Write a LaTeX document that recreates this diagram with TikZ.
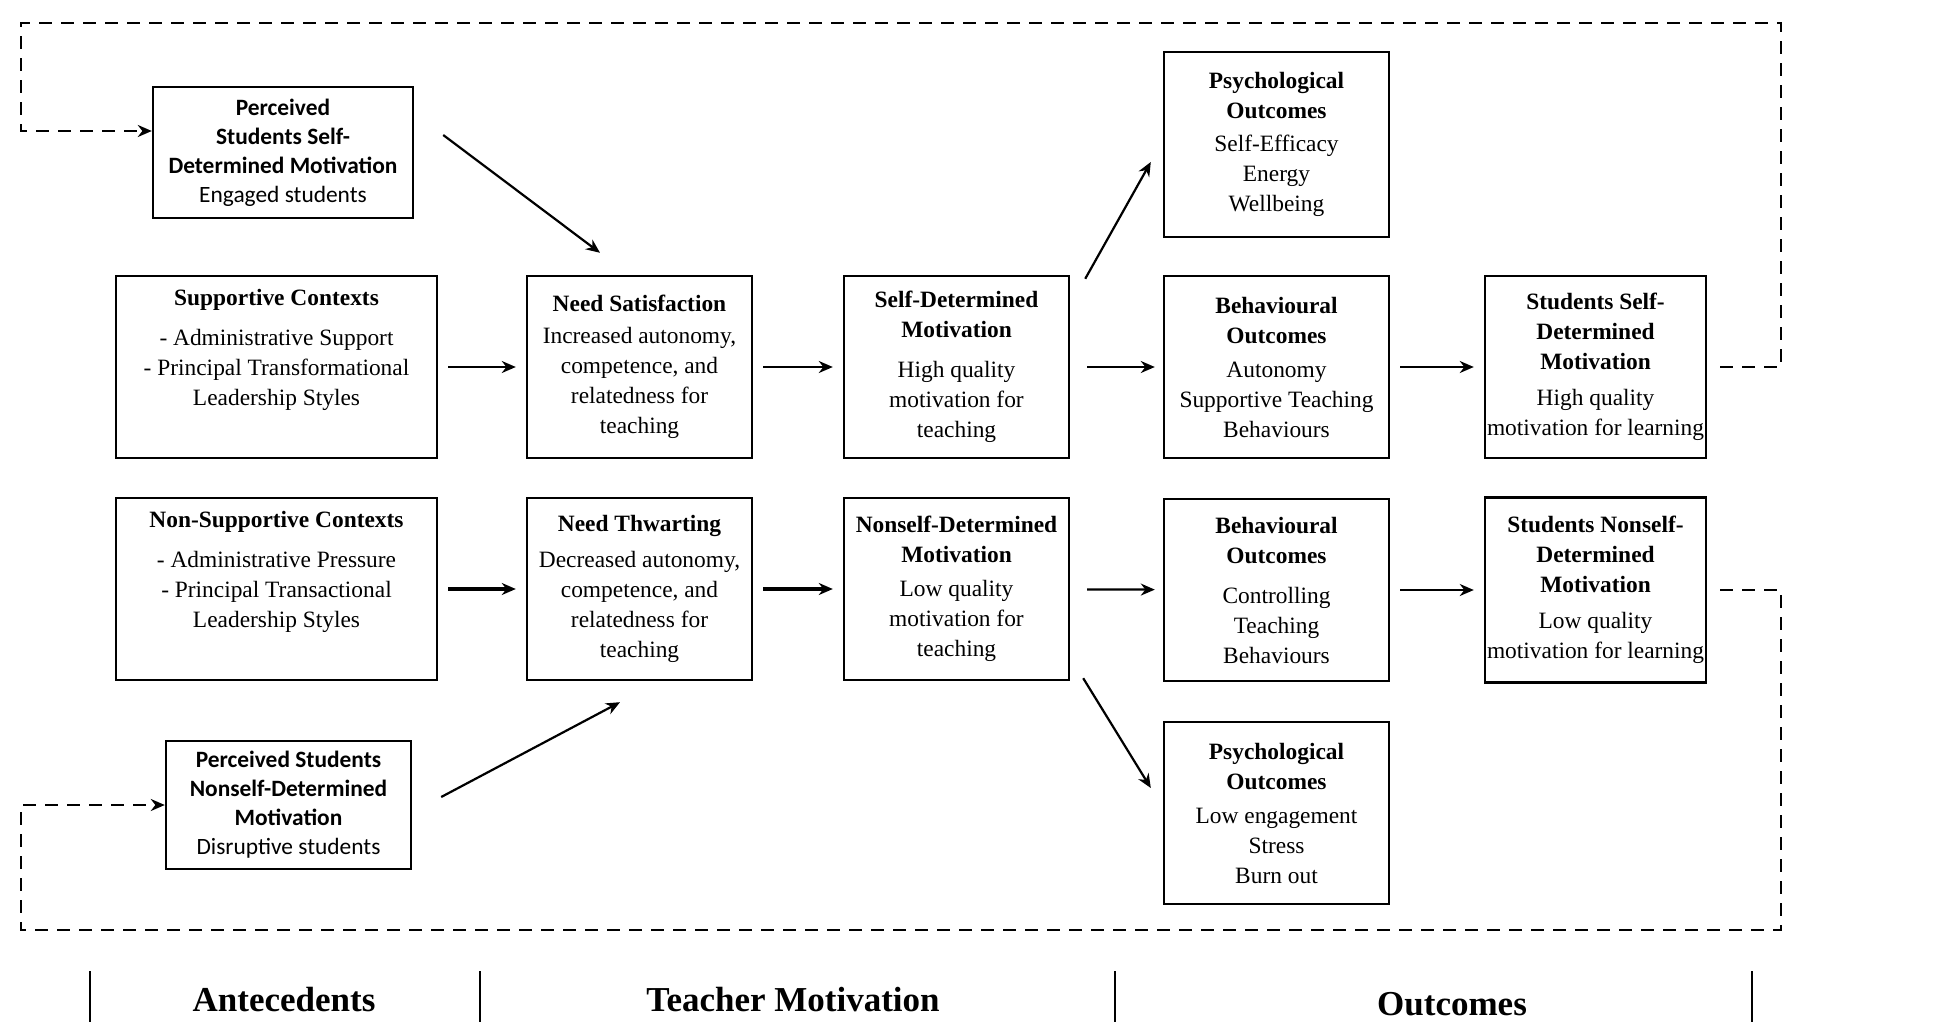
\documentclass[tikz,border=0pt]{standalone}
\usepackage{fontspec}
\setmainfont{Liberation Serif}
\newfontfamily\calibri{Carlito}
\usetikzlibrary{arrows.meta,calc}
\begin{document}
\begin{tikzpicture}[x=0.5pt, y=-0.5pt, >={Stealth[length=7pt,width=6pt]},
    every node/.style={font=\fontsize{11.7}{15}\selectfont},
    box/.style={draw, line width=1.2pt, inner sep=1pt, align=center, minimum width=112.5pt, minimum height=91pt},
    wide/.style={minimum width=160.5pt},
    perc/.style={draw, line width=1.2pt, inner sep=1pt, align=center, font=\calibri\fontsize{11.7}{14.5}\selectfont},
    arr/.style={->, line width=1.1pt},
    gap/.style={shorten <=5pt, shorten >=5pt},
    fb/.style={->, dash pattern=on 6.5pt off 4.5pt, line width=1.2pt},
    head/.style={font=\bfseries\fontsize{17.5}{20}\selectfont}]
    \useasboundingbox (0,0) rectangle (1953,1022);
    \node [perc, minimum width=130pt, minimum height=65.5pt] (pssd) at (283,152.5) {\textbf{Perceived}\\ \textbf{Students Self-}\\ \textbf{Determined Motivation}\\ Engaged students};
    \node [box, wide] (sc) at (276.5,367) {\textbf{Supportive Contexts}\\[5pt] - Administrative Support\\ - Principal Transformational\\ Leadership Styles\\ \strut};
    \node [box] (ns) at (639.5,367) {\textbf{Need Satisfaction}\\[1pt] Increased autonomy,\\ competence, and\\ relatedness for\\ teaching};
    \node [box] (sdm) at (956.5,367) {\textbf{Self-Determined}\\ \textbf{Motivation}\\[5pt] High quality\\ motivation for\\ teaching};
    \node [box, minimum height=92.5pt] (po1) at (1276.5,144.5) {\textbf{Psychological}\\ \textbf{Outcomes}\\[1.5pt] Self-Efficacy\\ Energy\\ Wellbeing};
    \node [box] (bo1) at (1276.5,367) {\textbf{Behavioural}\\ \textbf{Outcomes}\\[2pt] Autonomy\\ Supportive Teaching\\ Behaviours};
    \node [box, minimum width=110.5pt] (ssdm) at (1595.5,367) {\textbf{Students Self-}\\ \textbf{Determined}\\ \textbf{Motivation}\\[3pt] High quality\\ motivation for learning};
    \node [box, wide] (nsc) at (276.5,589) {\textbf{Non-Supportive Contexts}\\[5pt] - Administrative Pressure\\ - Principal Transactional\\ Leadership Styles\\ \strut};
    \node [box] (nt) at (639.5,589) {\textbf{Need Thwarting}\\[3pt] Decreased autonomy,\\ competence, and\\ relatedness for\\ teaching};
    \node [box] (nsdm) at (956.5,589) {\textbf{Nonself-Determined}\\ \textbf{Motivation}\\[2pt] Low quality\\ motivation for\\ teaching};
    \node [box] (bo2) at (1276.5,590) {\textbf{Behavioural}\\ \textbf{Outcomes}\\[5pt] Controlling\\ Teaching\\ Behaviours};
    \node [box, minimum width=110.5pt, minimum height=92.5pt] (snsdm) at (1595.5,590) {\textbf{Students Nonself-}\\ \textbf{Determined}\\ \textbf{Motivation}\\[3pt] Low quality\\ motivation for learning};
    \node [box] (po2) at (1276.5,813) {\textbf{Psychological}\\ \textbf{Outcomes}\\[2pt] Low engagement\\ Stress\\ Burn out};
    \node [perc, minimum width=122.5pt, minimum height=64pt] (psnsd) at (288.5,805) {\textbf{Perceived Students}\\ \textbf{Nonself-Determined}\\ \textbf{Motivation}\\ Disruptive students};
    \draw [arr, gap] (sc) -- (ns);
    \draw [arr, gap] (ns) -- (sdm);
    \draw [arr, shorten <=8.5pt, shorten >=4pt] (sdm) -- (bo1);
    \draw [arr, gap] (bo1) -- (ssdm);
    \draw [arr, gap, line width=2.4pt] (nsc) -- (nt);
    \draw [arr, gap, line width=2.4pt] (nt) -- (nsdm);
    \draw [arr, shorten <=8.5pt, shorten >=4pt] (nsdm) -- (bo2);
    \draw [arr, gap] (bo2) -- (snsdm);
    \draw [arr] ($(pssd.east)+(29,-17.5)$) -- ($(ns.north)+(-39.5,-22)$);
    \draw [arr] ($(psnsd.east)+(29,-8)$) -- ($(nt.south)+(-19.5,21)$);
    \draw [arr] ($(sdm.north east)+(15,4)$) -- ($(po1.west)+(-12,17.5)$);
    \draw [arr] ($(nsdm.south east)+(13,-3)$) -- ($(po2.west)+(-12,-25)$);
    \coordinate (tr) at (1781,23);
    \coordinate (tl) at (21,23);
    \coordinate (br) at (1781,930);
    \coordinate (bl) at (21,930);
    \draw [fb, shorten <=6.5pt] (ssdm.east) -| (tr) -- (tl) |- ($(pssd.west)+(0,-21.5)$);
    \draw [fb, shorten <=6.5pt] (snsdm.east) -| (br) -- (bl) |- (psnsd.west);
    \foreach \x in {90,480,1115,1752}
        \draw [line width=1pt] (\x,971) -- (\x,1022);
    \node [head] (ant) at (284,1000) {Antecedents};
    \node [head] (tm) at (793,1000) {Teacher Motivation};
    \node [head] (out) at (1452,1004) {Outcomes};
\end{tikzpicture}
\end{document}
